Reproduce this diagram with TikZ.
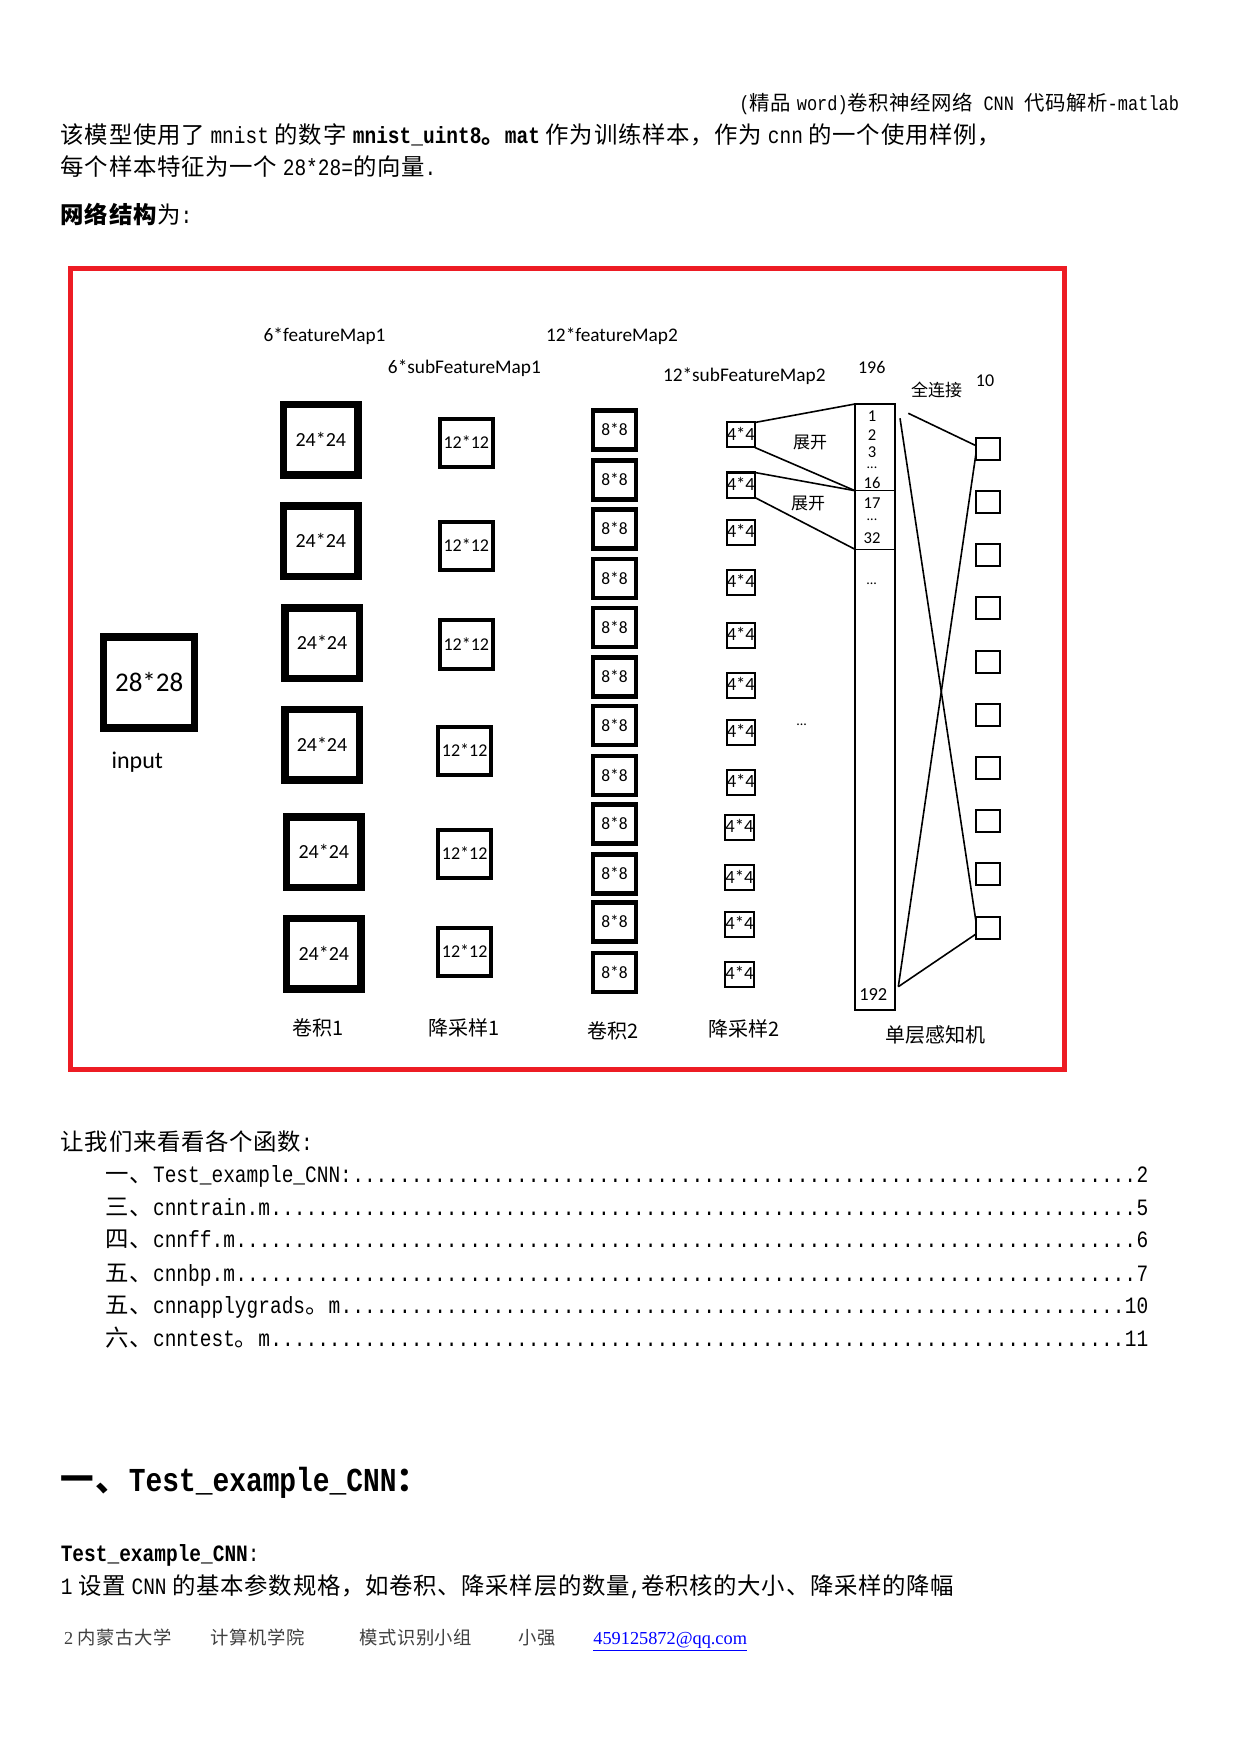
\documentclass[tikz,border=0pt]{standalone}
\usepackage{fontspec}
\setmainfont[LetterSpace=3]{Noto Sans CJK SC}
\newfontfamily\mono[FakeStretch=0.833]{Liberation Mono}
\newfontfamily\carl{Carlito}
\newfontfamily\tnr{Liberation Serif}
\newfontfamily\cjklab{Noto Sans CJK SC}
\usetikzlibrary{calc}
\definecolor{redframe}{RGB}{237,28,36}
\definecolor{linkblue}{RGB}{0,0,255}
\definecolor{footgray}{RGB}{64,64,64}
\newcommand\M[1]{{\mono #1}}
\newcommand\xs{\hspace{2.9pt}}
\newcommand\dotsx{\leavevmode\cleaders\hbox to 5.85pt{\hss\mono.\hss}\hfill}
\tikzset{
  bodytxt/.style={anchor=base west, inner sep=0pt, font=\fontsize{11.7}{14}\selectfont},
  lat/.style={anchor=base, inner sep=0pt, font={\carl\fontsize{#1}{#1}\selectfont}},
  cjkl/.style={anchor=base, inner sep=0pt, font={\cjklab\fontsize{#1}{#1}\selectfont}},
  bigbox/.style={draw, line width=3.65pt, minimum size=45.5pt, inner sep=0pt, outer sep=0pt,
    font={\carl\fontsize{13.5}{13.5}\selectfont}, text height=8.64pt, text depth=0pt},
  convbox/.style={draw, line width=3.75pt, minimum width=37.25pt, minimum height=35.25pt, inner sep=0pt, outer sep=0pt,
    font={\carl\fontsize{10}{10}\selectfont}, text height=6.4pt, text depth=0pt},
  poolbox/.style={draw, line width=2pt, minimum width=26.65pt, minimum height=24.25pt, inner sep=0pt, outer sep=0pt,
    font={\carl\fontsize{9}{9}\selectfont}, text height=5.76pt, text depth=0pt},
  kbox/.style={draw, line width=2.35pt, minimum width=21.45pt, minimum height=19.4pt, inner sep=0pt, outer sep=0pt,
    font={\carl\fontsize{8.7}{8.7}\selectfont}, text height=5.57pt, text depth=0pt},
  sbox/.style={draw, line width=1pt, minimum width=13.85pt, minimum height=12.5pt, inner sep=0pt, outer sep=0pt,
    font={\carl\fontsize{9.3}{9.3}\selectfont}, text height=5.95pt, text depth=0pt},
  obox/.style={draw, line width=1pt, minimum width=11.85pt, minimum height=11pt, inner sep=0pt, outer sep=0pt},
  colbox/.style={draw, line width=0.75pt, minimum width=20pt, minimum height=303pt, inner sep=0pt, outer sep=0pt},
  dotlab/.style={anchor=base, inner sep=0pt, font={\carl\fontsize{7}{7}\selectfont}, text height=1pt, text depth=0pt},
  ln/.style={line width=0.8pt},
}
\begin{document}
\begin{tikzpicture}[x=0.5pt,y=-0.5pt]
\useasboundingbox (0,0) rectangle (1241,1754);
\fill[white] (0,0) rectangle (1241,1754);

% ---------- header and intro text ----------
\node[bodytxt, anchor=base east, font=\fontsize{10.2}{12}\selectfont] (hdr) at (1179.5,110.8)
  {\M{(}精品\xs{}\M{word)}卷积神经网络\M{\ CNN\ }代码解析\M{-matlab}};
\node[bodytxt] (l1) at (60.4,143.2)
  {该模型使用了\xs{}\M{mnist}\xs{}的数字\xs{}\textbf{\M{mnist\_uint8}。\M{mat}}\xs{}作为训练样本，作为\xs{}\M{cnn}\xs{}的一个使用样例，};
\node[bodytxt] (l2) at (60.4,175.6) {每个样本特征为一个\xs{}\M{28*28=}的向量\M{.}};
\node[bodytxt] (l3) at (60.4,223.7) {\textbf{网络结构}为\M{:}};

% ---------- red frame ----------
\draw[redframe, line width=2.5pt] (70.7,268.6) rectangle (1064,1069.3);

% ---------- input ----------
\node[bigbox] (in) at (149.2,682.5) {28*28};
\node[lat=12] (linput) at (137.3,768) {input};

% ---------- conv1 ----------
\foreach \i/\x/\y in {1/320.8/440, 2/320.8/541.3, 3/322/643, 4/322/744.7, 5/323.8/852.3, 6/323.8/953.7}
  \node[convbox] (c\i) at (\x,\y) {24*24};
% ---------- pool1 ----------
\foreach \i/\x/\y in {1/466.3/443, 2/466.3/546.2, 3/466.3/644.5, 4/464.7/751.2, 5/464.7/853.8, 6/464.7/952.2}
  \node[poolbox] (p\i) at (\x,\y) {12*12};
% ---------- conv2 ----------
\foreach \i/\y in {1/430,2/480,3/529,4/578.5,5/627.5,6/677,7/725.5,8/775.5,9/824,10/874,11/922,12/972.5}
  \node[kbox] (k\i) at (614.5,\y) {8*8};
% ---------- pool2 ----------
\foreach \i/\x/\y in {1/740.8/435, 2/740.8/485, 3/740.8/532, 4/740.8/582, 5/740.8/635, 6/740.8/685,
                      7/740.8/732, 8/740.8/782, 9/739.5/827, 10/739.5/877.5, 11/739.5/924, 12/739.5/974}
  \node[sbox] (s\i) at (\x,\y) {4*4};
\node[dotlab] (sdots) at (801.7,725) {...};

% ---------- flattened column ----------
\node[colbox] (col) at (875,707) {};
\coordinate (d1) at ($(col.north west)+(0,86.7)$);
\coordinate (d2) at ($(col.north west)+(0,145.3)$);
\draw[line width=0.75pt] (d1) -- (d1 -| col.east);
\draw[line width=0.75pt] (d2) -- (d2 -| col.east);
\node[lat=8.3] (n1) at (872,422) {1};
\node[lat=8.3] (n2) at (872,440.3) {2};
\node[lat=8.3] (n3) at (872,457.5) {3};
\node[dotlab] (nd1) at (872,468) {...};
\node[lat=8.3] (n16) at (872,488) {16};
\node[lat=8.3] (n17) at (872,508.3) {17};
\node[dotlab] (nd2) at (872,520.8) {...};
\node[lat=8.3] (n32) at (872,543.6) {32};
\node[dotlab] (nd3) at (871.7,584.3) {...};
\node[lat=9.2] (n192) at (873.3,1000.9) {192};

% expansion lines
\draw[ln] (s1.north east) -- (col.north west);
\draw[ln] (s1.south east) -- (d1);
\draw[ln] (s2.north east) -- (d1);
\draw[ln] (s2.south east) -- (d2);
\node[cjkl=8.5] (le1) at (810,448.2) {展开};
\node[cjkl=8.5] (le2) at (808,509.8) {展开};

% ---------- output layer ----------
\foreach \i in {1,...,10}
  \node[obox] (o\i) at (987.85,{448.7+53.2*(\i-1)}) {};
\coordinate (fa) at ($(col.north east)+(13.3,9.3)$);
\coordinate (fb) at ($(col.north east)+(5,14.3)$);
\coordinate (fc) at ($(col.south east)+(3.3,-23.3)$);
\draw[ln] (fa) -- ($(o1.west)+(0,-3)$);
\draw[ln] (fb) -- ($(o10.west)+(0,-5.8)$);
\draw[ln] ($(o1.west)+(0,4.6)$) -- (fc);
\draw[ln] (fc) -- ($(o10.west)+(0,6.5)$);

% ---------- top labels ----------
\node[lat=9.65] (lf1) at (324.6,341.5) {6*featureMap1};
\node[lat=9.65] (lsf1) at (464.4,373.8) {6*subFeatureMap1};
\node[lat=9.65] (lf2) at (612,341.5) {12*featureMap2};
\node[lat=9.65] (lsf2) at (744.3,381.8) {12*subFeatureMap2};
\node[lat=9] (l196) at (871.7,373.4) {196};
\node[lat=9] (l10) at (985,386.4) {10};
\node[cjkl=8.5] (lfc) at (936.7,396.5) {全连接};

% ---------- bottom labels ----------
\node[cjkl=10] (b1) at (317.8,1035.9) {卷积1};
\node[cjkl=10] (b2) at (464,1035.9) {降采样1};
\node[cjkl=10] (b3) at (613.3,1038.3) {卷积2};
\node[cjkl=10] (b4) at (744,1036.6) {降采样2};
\node[cjkl=10] (b5) at (935,1042.6) {单层感知机};

% ---------- table of contents ----------
\node[bodytxt] (toch) at (60.4,1150.3) {让我们来看看各个函数\M{:}};
\node[bodytxt] (t1) at (105.2,1182.7) {\hbox to 521.4pt{一、\M{Test\_example\_CNN:}\dotsx\M{2}}};
\node[bodytxt] (t2) at (105.2,1215.2) {\hbox to 521.4pt{三、\M{cnntrain.m}\dotsx\M{5}}};
\node[bodytxt] (t3) at (105.2,1247.6) {\hbox to 521.4pt{四、\M{cnnff.m}\dotsx\M{6}}};
\node[bodytxt] (t4) at (105.2,1281.2) {\hbox to 521.4pt{五、\M{cnnbp.m}\dotsx\M{7}}};
\node[bodytxt] (t5) at (105.2,1313.7) {\hbox to 521.4pt{五、\M{cnnapplygrads}。\M{m}\dotsx\M{10}}};
\node[bodytxt] (t6) at (105.2,1346.1) {\hbox to 521.4pt{六、\M{cnntest}。\M{m}\dotsx\M{11}}};

% ---------- section ----------
\node[bodytxt, font=\fontsize{16.75}{20}\selectfont\bfseries] (sec) at (60.4,1491) {一、\M{Test\_example\_CNN}：};
\node[bodytxt] (sub) at (60.4,1561) {\textbf{\M{Test\_example\_CNN}}\M{:}};
\node[bodytxt] (p1) at (60.4,1594.5)
  {\M{1}\xs{}设置\xs{}\M{CNN}\xs{}的基本参数规格，如卷积、降采样层的数量\M{,}卷积核的大小、降采样的降幅};

% ---------- footer ----------
\tikzset{foot/.style={anchor=base west, inner sep=0pt, text=footgray, font=\fontsize{9.15}{11}\selectfont}}
\node[foot] (f1) at (63.8,1644) {{\tnr 2} 内蒙古大学};
\node[foot] (f2) at (210.4,1644) {计算机学院};
\node[foot] (f3) at (359.2,1644) {模式识别小组};
\node[foot] (f4) at (518,1644) {小强};
\node[foot, text=linkblue] (f5) at (593,1644) {{\tnr\underline{459125872@qq.com}}};
\end{tikzpicture}
\end{document}
